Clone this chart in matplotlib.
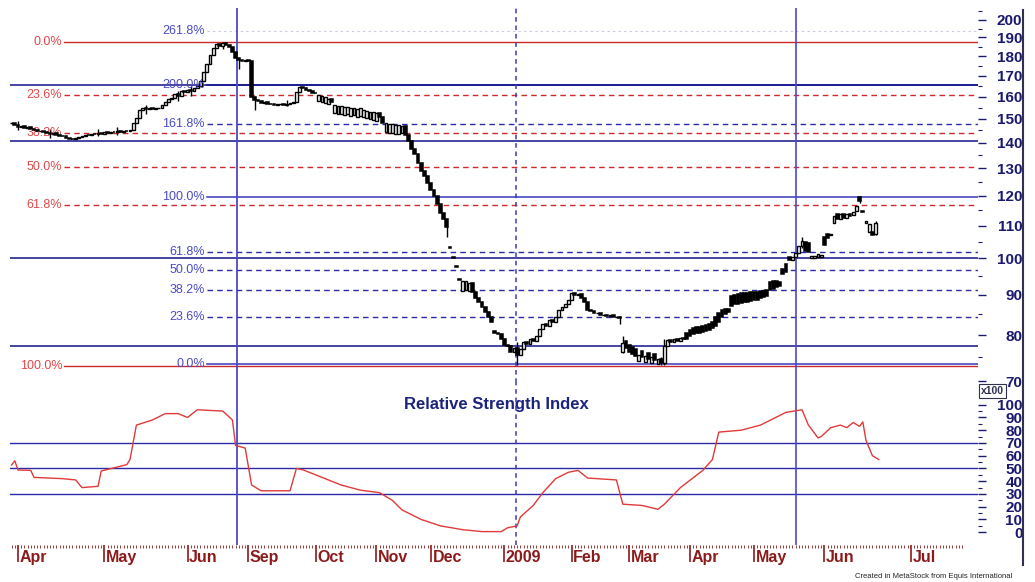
import matplotlib
matplotlib.use('Agg')
import matplotlib.pyplot as plt
import matplotlib.transforms as mtransforms
from matplotlib.lines import Line2D
from matplotlib.ticker import FixedLocator, FixedFormatter, NullFormatter
import numpy as np

plt.rcParams['font.family'] = ['Liberation Sans', 'DejaVu Sans']

# daily closes, one per trading bar (Apr 2008 .. Jun 2009, Jul-Aug 2008 missing)
closes = [
    148.0, 147.2, 146.5, 146.8, 146.0, 146.3, 145.5, 145.0, 144.6, 144.8,
    144.2, 144.0, 143.6, 143.8, 143.2, 142.8, 142.5, 142.0, 141.6, 141.3,
    141.8, 142.4, 142.8, 143.2, 143.0, 143.6, 143.4, 143.9, 143.7, 144.2,
    144.0, 144.4, 144.3, 144.6, 144.4, 144.8, 144.6, 145.0, 148.0, 150.5,
    153.9, 154.6, 154.2, 154.8, 154.5, 154.6, 155.0, 156.2, 157.5, 158.8,
    159.4, 161.0, 160.5, 162.5, 162.0, 163.2, 162.8, 164.0, 165.2, 167.5,
    172.0, 176.0, 180.5, 184.5, 186.5, 185.5, 186.8, 185.8, 185.0, 182.0,
    179.0, 178.0, 177.5, 178.2, 177.6, 160.0, 158.5, 158.0, 157.2, 157.6,
    156.8, 156.5, 156.0, 156.4, 156.6, 156.2, 156.8, 157.0, 157.5, 162.0,
    164.5, 164.0, 163.0, 162.4, 161.8, 161.5, 160.8, 160.4, 159.8, 159.0,
    157.6, 156.0, 155.6, 155.8, 155.2, 155.4, 154.8, 155.0, 154.4, 154.6,
    154.0, 153.6, 153.2, 152.8, 152.4, 151.0, 148.2, 148.0, 147.8, 147.6,
    147.4, 147.2, 147.0, 143.0, 140.5, 137.5, 135.5, 132.0, 129.0, 127.0,
    124.5, 122.0, 120.0, 117.0, 114.0, 112.0, 109.5, 103.0, 100.1, 97.4,
    94.0, 93.5, 93.6, 93.0, 90.6, 89.2, 88.1, 86.8, 85.6, 84.2,
    83.0, 80.6, 80.3, 79.0, 77.8, 77.5, 76.2, 77.0, 75.4, 76.8,
    78.5, 78.0, 79.2, 78.6, 79.8, 81.5, 82.6, 82.2, 83.5, 83.0,
    84.2, 86.0, 86.8, 87.6, 88.5, 90.5, 89.8, 90.2, 89.0, 88.2,
    86.0, 85.8, 85.2, 85.4, 84.8, 84.9, 84.5, 84.7, 84.2, 84.4,
    84.0, 78.2, 77.0, 76.2, 75.8, 75.2, 75.6, 75.0, 75.3, 74.7,
    75.0, 74.4, 74.6, 73.8, 77.5, 78.8, 78.4, 79.0, 78.6, 79.4,
    79.0, 79.2, 79.8, 80.2, 80.5, 80.6, 80.8, 81.0, 81.2, 81.6,
    82.2, 83.2, 84.2, 85.0, 85.6, 87.0, 87.5, 87.6, 87.8, 88.0,
    88.1, 88.3, 88.5, 88.7, 89.0, 89.3, 89.6, 91.3, 91.6, 92.0,
    92.2, 95.5, 96.0, 99.5, 100.3, 101.5, 103.5, 105.3, 102.2, 102.0,
    100.8, 100.7, 101.2, 101.0, 104.0, 106.0, 107.2, 113.2, 112.0, 113.6,
    112.4, 113.8, 113.2, 114.5, 116.5, 118.0, 114.4, 111.3, 110.6, 107.0,
    110.8,
]

# opens that differ from the previous close (gaps)
open_override = {
    96: 158.0, 97: 157.6, 98: 157.2, 99: 156.6,
    101: 152.6, 102: 152.2, 103: 152.3, 104: 151.8, 105: 151.9, 106: 151.4,
    107: 151.5, 108: 151.0, 109: 151.1, 110: 150.6, 111: 150.3, 112: 150.0,
    113: 149.6, 114: 149.2,
    117: 144.2, 118: 144.0, 119: 143.8, 120: 143.6, 121: 143.6, 122: 143.8,
    137: 103.4, 138: 100.4, 139: 97.7, 140: 94.3,
    141: 91.0, 142: 91.2, 143: 91.0, 151: 80.9, 152: 80.5,
    191: 76.2, 192: 78.6, 193: 77.8, 194: 77.2, 195: 76.8,
    196: 74.2, 197: 76.4, 198: 73.9, 199: 76.0, 200: 73.7, 201: 75.8, 202: 73.5,
    211: 80.6, 212: 81.2, 213: 81.6, 214: 81.8, 215: 82.0, 216: 82.2,
    217: 82.4, 218: 82.7, 219: 83.2, 220: 84.2, 221: 85.2, 222: 86.0,
    223: 86.4, 224: 86.4, 225: 89.6, 226: 90.0, 227: 90.2, 228: 90.3,
    229: 90.4, 230: 90.5, 231: 90.6, 232: 90.7, 233: 90.8, 234: 90.9,
    235: 91.0, 236: 91.1, 237: 93.4, 238: 93.5, 239: 93.6, 240: 93.3,
    241: 97.0, 242: 98.4, 243: 100.5, 248: 105.0, 249: 104.5,
    250: 100.2, 251: 100.1, 252: 100.3, 253: 100.5, 254: 106.5, 255: 107.2,
    256: 107.0, 257: 110.8, 258: 113.8, 259: 112.2, 260: 113.6, 261: 112.5,
    262: 113.8, 263: 113.4, 264: 114.8, 265: 119.5, 266: 114.6, 267: 110.8,
    268: 108.0, 269: 108.0, 270: 107.3,
}

# visible wicks (low, high)
wick_range = {
    2: (145.0, 149.0), 12: (142.0, 145.5), 27: (142.5, 145.5), 33: (143.0, 146.5),
    42: (152.0, 156.0), 52: (158.0, 162.5), 56: (160.5, 165.0), 66: (184.0, 187.5),
    71: (173.5, 179.0), 76: (154.0, 160.5), 86: (155.5, 158.5), 136: (106.4, 110.0),
    158: (73.4, 78.5), 190: (82.6, 84.5), 191: (76.0, 79.8), 203: (73.3, 75.0),
    204: (73.3, 79.2), 247: (103.0, 106.4), 265: (117.5, 120.0), 270: (107.0, 111.6),
}

month_labels = ['Apr', 'May', 'Jun', 'Sep', 'Oct', 'Nov', 'Dec', '2009',
                'Feb', 'Mar', 'Apr', 'May', 'Jun', 'Jul']
month_starts = [2, 29, 55, 74, 95, 114, 131, 154, 175, 193, 212, 232, 254, 281]

price_ticks = [200, 190, 180, 170, 160, 150, 140, 130, 120, 110, 100, 90, 80, 70]
rsi_ticks = [100, 90, 80, 70, 60, 50, 40, 30, 20, 10, 0]

red_fib_high, red_fib_low = 187.6, 73.2
red_ratios = [0.0, 0.236, 0.382, 0.5, 0.618, 1.0]
blue_fib_low, blue_fib_high = 73.6, 119.5
blue_ratios = [0.0, 0.236, 0.382, 0.5, 0.618, 1.0, 1.618, 2.0, 2.618]
support_lines = [165.5, 140.7, 100.0, 77.5]
event_bars = [70.5, 157.5, 245]

rsi_x = [0, 1, 2, 6, 7, 16, 20, 22, 27, 28, 36, 37, 39, 44, 48, 52, 55, 58,
         66, 69, 70, 73, 75, 78, 87, 89, 91, 97, 103, 109, 115, 119, 122,
         128, 134, 141, 147, 153, 155, 158, 159, 163, 166, 170, 174, 177,
         180, 189, 191, 197, 202, 204, 209, 216, 219, 221, 228, 234, 242,
         247, 249, 252, 253, 256, 259, 261, 263, 265, 266, 267, 269, 271]
rsi_y = [52.7, 56, 48.8, 48.5, 43, 42, 41, 35, 36, 48, 53, 57, 84, 88, 93,
         93, 90, 96, 95, 88, 68, 66, 37, 32.5, 32.5, 50, 49, 43, 37, 33, 31,
         25, 17.5, 10, 5, 2, 0.5, 0.5, 3.5, 5, 12, 21, 31, 42, 47, 48.5,
         42.5, 41, 22, 21, 18, 22, 35, 48.5, 57, 78.5, 80, 84, 94, 96, 84,
         74, 75, 82, 84, 82, 86, 83, 86.5, 72, 60, 57]
rsi_levels = [70, 50, 30]

navy = '#14148c'
tick_navy = '#1a1a70'
red_line = '#cc2a2a'
red_text = '#e04848'
blue_line = '#2a2aa8'
blue_text = '#4a4ac8'
month_red = '#8b1a1a'

W, H = 1035, 582
fig = plt.figure(figsize=(W / 100, H / 100), dpi=100)


def box(l, t, r, b):
    return [l / W, 1 - b / H, (r - l) / W, (b - t) / H]


ax = fig.add_axes(box(10, 8, 978, 383))
axr = fig.add_axes(box(10, 383, 978, 545), sharex=ax)

# ---- price candles
n = len(closes)
opens = [open_override.get(i, closes[i - 1] if i else closes[0]) for i in range(n)]
xs = np.arange(n)
o = np.array(opens)
c = np.array(closes)
lo_b = np.minimum(o, c)
hi_b = np.maximum(o, c)
up = c >= o

for i, (lo, hi) in wick_range.items():
    ax.vlines(i, lo, hi, color='black', lw=1.0, zorder=3)
ax.bar(xs[up], hi_b[up] - lo_b[up], bottom=lo_b[up], width=0.9,
       facecolor='white', edgecolor='black', lw=1.0, zorder=4)
ax.bar(xs[~up], hi_b[~up] - lo_b[~up], bottom=lo_b[~up], width=0.9,
       facecolor='black', edgecolor='black', lw=1.1, zorder=4)

ax.set_yscale('log')
ax.set_ylim(69.6, 207)
ax.set_xlim(-0.5, 302)

blend = mtransforms.blended_transform_factory(ax.transAxes, ax.transData)

for lvl in support_lines:
    ax.axhline(lvl, color=navy, lw=1.1, zorder=2)

red_x0 = 0.056
for r in red_ratios:
    lvl = red_fib_high - r * (red_fib_high - red_fib_low)
    ls = '-' if r in (0.0, 1.0) else (0, (4, 3))
    ax.axhline(lvl, xmin=red_x0, color=red_line, lw=1, ls=ls, zorder=2)
    ax.text(red_x0 - 0.002, lvl, '%.1f%%' % (r * 100), transform=blend,
            ha='right', va='center', color=red_text, fontsize=9)

blue_x0 = 0.2035
for r in blue_ratios:
    lvl = blue_fib_low + r * (blue_fib_high - blue_fib_low)
    if r in (0.0, 1.0):
        ax.axhline(lvl, xmin=blue_x0, color='#4848c0', lw=1.2, zorder=2)
    elif r == 2.0:
        ax.axhline(lvl, xmin=blue_x0, color=navy, lw=1.1, zorder=2)
    elif r == 2.618:
        ax.axhline(lvl, xmin=blue_x0, color='#c8c8ea', lw=0.8, ls=(0, (2, 3)), zorder=2)
    else:
        ax.axhline(lvl, xmin=blue_x0, color=blue_line, lw=1, ls=(0, (4, 3)), zorder=2)
    ax.text(blue_x0 - 0.002, lvl, '%.1f%%' % (r * 100), transform=blend,
            ha='right', va='center', color=blue_text, fontsize=9, zorder=5)

# ---- RSI
axr.plot(rsi_x, rsi_y, color='#e03a3a', lw=1, zorder=4)
for lvl in rsi_levels:
    axr.axhline(lvl, color='#2a2aa8', lw=1, zorder=2)
axr.set_ylim(-10, 117)
axr.text(0.502, 0.87, 'Relative Strength Index', transform=axr.transAxes,
         ha='center', va='center', color='#1a237e', fontsize=12, fontweight='bold')

# ---- event lines through both panels
for a in (ax, axr):
    a.axvline(event_bars[0], color='#4a4ac8', lw=1.3, zorder=3)
    a.axvline(event_bars[1], color='#3a3ab8', lw=1.1, ls=(0, (3, 2.5)), zorder=3)
    a.axvline(event_bars[2], color='#4a4ac8', lw=1.2, zorder=3)

# ---- axes styling
for a in (ax, axr):
    for s in a.spines.values():
        s.set_visible(False)
    a.yaxis.tick_right()

ax.yaxis.set_major_locator(FixedLocator(price_ticks))
ax.yaxis.set_major_formatter(FixedFormatter([str(t) for t in price_ticks]))
ax.yaxis.set_minor_locator(FixedLocator([t + 5 for t in price_ticks]))
ax.yaxis.set_minor_formatter(NullFormatter())
axr.yaxis.set_major_locator(FixedLocator(rsi_ticks))
axr.yaxis.set_major_formatter(FixedFormatter([str(t) for t in rsi_ticks]))
axr.yaxis.set_minor_locator(FixedLocator([t + 5 for t in rsi_ticks[1:]]))

for a in (ax, axr):
    a.tick_params(axis='y', which='major', length=6, width=1, color=tick_navy,
                  pad=26, labelsize=11, labelcolor=tick_navy)
    a.tick_params(axis='y', which='minor', length=3, width=0.8, color=tick_navy)
    for lbl in a.get_yticklabels():
        lbl.set_horizontalalignment('right')
        lbl.set_fontweight('bold')

ax.tick_params(axis='x', which='both', bottom=False, labelbottom=False)

axr.xaxis.set_major_locator(FixedLocator(month_starts))
axr.xaxis.set_major_formatter(NullFormatter())
axr.xaxis.set_minor_locator(FixedLocator(list(range(0, 298))))
axr.tick_params(axis='x', which='major', length=12, width=1.2, color=month_red)
axr.tick_params(axis='x', which='minor', length=2.5, width=0.6, color=month_red)

xblend = mtransforms.blended_transform_factory(axr.transData, axr.transAxes)
for pos, lab in zip(month_starts, month_labels):
    axr.text(pos + 0.5, -0.075, lab, transform=xblend, ha='left', va='center',
             color=month_red, fontsize=11.5, fontweight='bold')

# ---- frame extras
fig.add_artist(Line2D([1023 / W, 1023 / W], [1 - 10 / H, 1 - 565 / H],
                      color='#303050', lw=1.5))
fig.text(981 / W, 1 - 391 / H, 'x100', fontsize=7.5, fontweight='bold',
         color='#303050', ha='left', va='center',
         bbox=dict(boxstyle='square,pad=0.15', fc='white', ec='#303050', lw=0.8))
fig.text(855 / W, 1 - 577 / H, 'Created in MetaStock from Equis International',
         fontsize=5.5, color='#222222', ha='left', va='center')

fig.savefig('out.png', dpi=100)
